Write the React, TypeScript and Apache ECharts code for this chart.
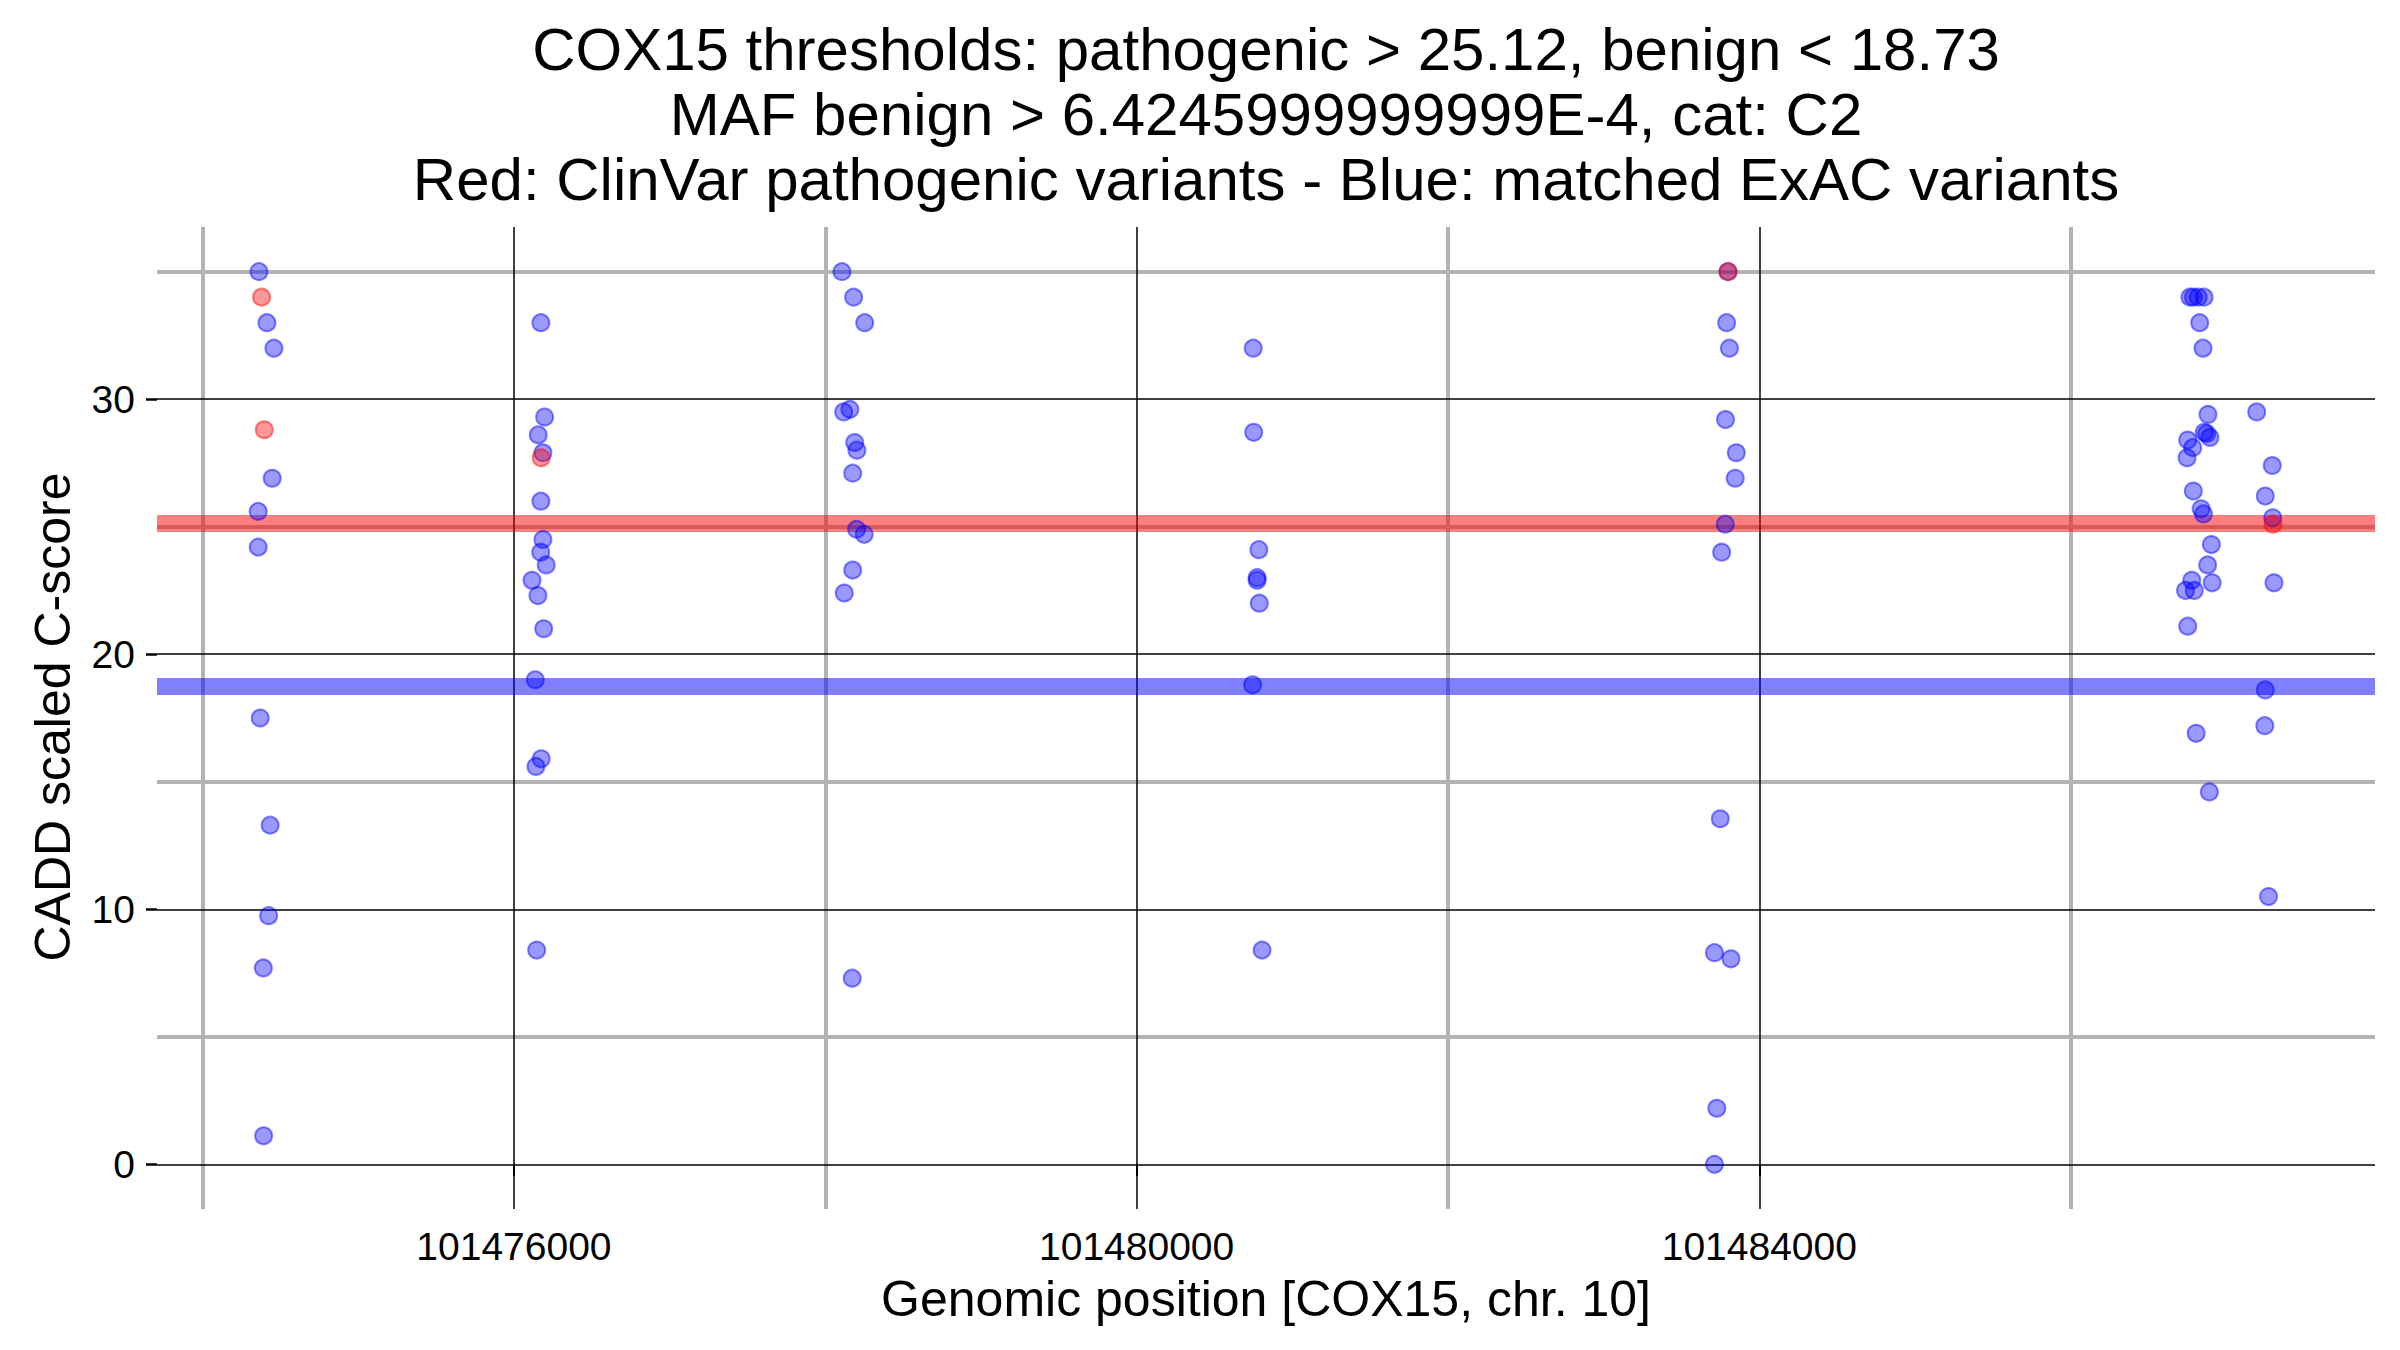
import React, { useEffect, useRef } from "react";
import * as echarts from "echarts";

// ---- data ----
const titleLines = [
  "COX15 thresholds: pathogenic > 25.12, benign < 18.73",
  "MAF benign > 6.4245999999999E-4, cat: C2",
  "Red: ClinVar pathogenic variants - Blue: matched ExAC variants",
];
const xTitle = "Genomic position [COX15, chr. 10]";
const yTitle = "CADD scaled C-score";

const xRange = [101473707, 101487955];
const yRange = [-1.75, 36.75];
const xMajor = [101476000, 101480000, 101484000];
const xMinor = [101474000, 101478000, 101482000, 101486000];
const yMajor = [0, 10, 20, 30];
const yMinor = [5, 15, 25, 35];
const pathogenicThreshold = 25.12;
const benignThreshold = 18.73;

const blueX = [
  101474362, 101474413, 101474458, 101474447, 101474357, 101474357, 101474370, 101474434, 101474424, 101474390, 101474392,
  101476173, 101476197, 101476156, 101476186, 101476173, 101476186, 101476172, 101476207, 101476116, 101476154, 101476191, 101476137, 101476175, 101476141, 101476146,
  101478107, 101478182, 101478253, 101478118, 101478158, 101478189, 101478203, 101478176, 101478201, 101478250, 101478176, 101478122, 101478173,
  101480749, 101480752, 101480785, 101480774, 101480774, 101480788, 101480745, 101480806,
  101483798, 101483790, 101483808, 101483783, 101483852, 101483845, 101483781, 101483758, 101483749, 101483712, 101483818, 101483727, 101483712,
  101486766, 101486788, 101486820, 101486857, 101486829, 101486850, 101486882, 101486858, 101486874, 101486895, 101486752, 101486784, 101486748, 101486788, 101486838, 101486853, 101486904, 101486880, 101486778, 101486738, 101486794, 101486909, 101486752, 101486806, 101486891,
  101487195, 101487295, 101487250, 101487298, 101487306, 101487250, 101487247, 101487271,
];
const blueY = [
  35.0, 33.0, 32.0, 26.9, 25.6, 24.2, 17.5, 13.3, 9.75, 7.7, 1.12,
  33.0, 29.3, 28.6, 27.9, 26.0, 24.5, 24.0, 23.5, 22.9, 22.3, 21.0, 19.0, 15.9, 15.6, 8.4,
  35.0, 34.0, 33.0, 29.5, 29.6, 28.3, 28.0, 27.1, 24.9, 24.7, 23.3, 22.4, 7.3,
  32.0, 28.7, 24.1, 23.0, 22.9, 22.0, 18.8, 8.4,
  35.0, 33.0, 32.0, 29.2, 27.9, 26.9, 25.1, 24.0, 13.55, 8.3, 8.06, 2.2, 0.0,
  34.0, 34.0, 34.0, 34.0, 33.0, 32.0, 29.4, 28.7, 28.65, 28.5, 28.4, 28.1, 27.7, 26.4, 25.7, 25.5, 24.3, 23.5, 22.9, 22.5, 22.5, 22.8, 21.1, 16.9, 14.6,
  29.5, 27.4, 26.2, 25.35, 22.8, 18.6, 17.2, 10.5,
];
const redX = [101474379, 101474396, 101476175, 101483800, 101487300];
const redY = [34.0, 28.8, 27.7, 35.0, 25.1];

const FONT = "'Liberation Sans', Arial, Helvetica, sans-serif";

export default function App() {
  const ref = useRef<HTMLDivElement>(null);
  useEffect(() => {
    if (!ref.current) return;
    const chart = echarts.init(ref.current, null, { renderer: "svg" });
    const gridLines = [
      ...xMinor.map((v) => ({ xAxis: v, lineStyle: { color: "#b3b3b3", width: 4, type: "solid" } })),
      ...yMinor.map((v) => ({ yAxis: v, lineStyle: { color: "#b3b3b3", width: 4, type: "solid" } })),
      ...xMajor.map((v) => ({ xAxis: v, lineStyle: { color: "#000000", width: 1.5, type: "solid" } })),
      ...yMajor.map((v) => ({ yAxis: v, lineStyle: { color: "#000000", width: 1.5, type: "solid" } })),
    ];
    const pts = (xs: number[], ys: number[]) => xs.map((x, i) => [x, ys[i]]);
    chart.setOption({
      animation: false,
      backgroundColor: "#ffffff",
      grid: { left: 157, right: 25, top: 227, bottom: 141, containLabel: false },
      xAxis: {
        type: "value",
        min: xRange[0],
        max: xRange[1],
        axisLine: { show: false },
        splitLine: { show: false },
        axisTick: { show: true, customValues: xMajor, length: 12, lineStyle: { color: "#000", width: 2 } },
        axisLabel: {
          customValues: xMajor,
          fontSize: 39,
          color: "#000",
          fontFamily: FONT,
          margin: 18,
          formatter: (v: number) => String(v),
        },
      },
      yAxis: {
        type: "value",
        min: yRange[0],
        max: yRange[1],
        axisLine: { show: false },
        splitLine: { show: false },
        axisTick: { show: true, customValues: yMajor, length: 11, lineStyle: { color: "#000", width: 2.5 } },
        axisLabel: {
          customValues: yMajor,
          fontSize: 39,
          color: "#000",
          fontFamily: FONT,
          margin: 22,
          formatter: (v: number) => String(v),
        },
      },
      graphic: [
        {
          type: "text",
          x: 1266,
          y: 17,
          silent: true,
          style: {
            text: titleLines.join("\n"),
            font: `60px ${FONT}`,
            fill: "#000",
            textAlign: "center",
            textVerticalAlign: "top",
            lineHeight: 65,
          },
        },
        {
          type: "text",
          x: 1266,
          y: 1299,
          silent: true,
          style: { text: xTitle, font: `50px ${FONT}`, fill: "#000", textAlign: "center", textVerticalAlign: "middle" },
        },
        {
          type: "text",
          x: 53,
          y: 717,
          rotation: Math.PI / 2,
          silent: true,
          style: { text: yTitle, font: `50px ${FONT}`, fill: "#000", textAlign: "center", textVerticalAlign: "middle" },
        },
      ],
      series: [
        {
          type: "scatter",
          name: "grid",
          data: [],
          silent: true,
          z: 1,
          markLine: {
            z: 1,
            silent: true,
            symbol: ["none", "none"],
            label: { show: false },
            emphasis: { disabled: true },
            data: gridLines,
          },
        },
        {
          type: "scatter",
          name: "thresholds",
          data: [],
          silent: true,
          z: 2,
          markLine: {
            z: 2,
            silent: true,
            symbol: ["none", "none"],
            label: { show: false },
            emphasis: { disabled: true },
            data: [
              { yAxis: pathogenicThreshold, lineStyle: { color: "rgba(255,0,0,0.5)", width: 17, type: "solid" } },
              { yAxis: benignThreshold, lineStyle: { color: "rgba(0,0,255,0.5)", width: 17, type: "solid" } },
            ],
          },
        },
        {
          type: "scatter",
          name: "ExAC",
          z: 10,
          symbolSize: 17,
          data: pts(blueX, blueY),
          itemStyle: { color: "rgba(0,0,255,0.5)", borderColor: "rgba(0,0,255,0.6)", borderWidth: 2 },
          emphasis: { disabled: true },
        },
        {
          type: "scatter",
          name: "ClinVar",
          z: 11,
          symbolSize: 17,
          data: pts(redX, redY),
          itemStyle: { color: "rgba(255,0,0,0.5)", borderColor: "rgba(255,0,0,0.6)", borderWidth: 2 },
          emphasis: { disabled: true },
        },
      ],
    });
    return () => chart.dispose();
  }, []);
  return (
    <div
      ref={ref}
      style={{ position: "fixed", left: 0, top: 0, width: 2400, height: 1350, background: "#fff" }}
    />
  );
}
